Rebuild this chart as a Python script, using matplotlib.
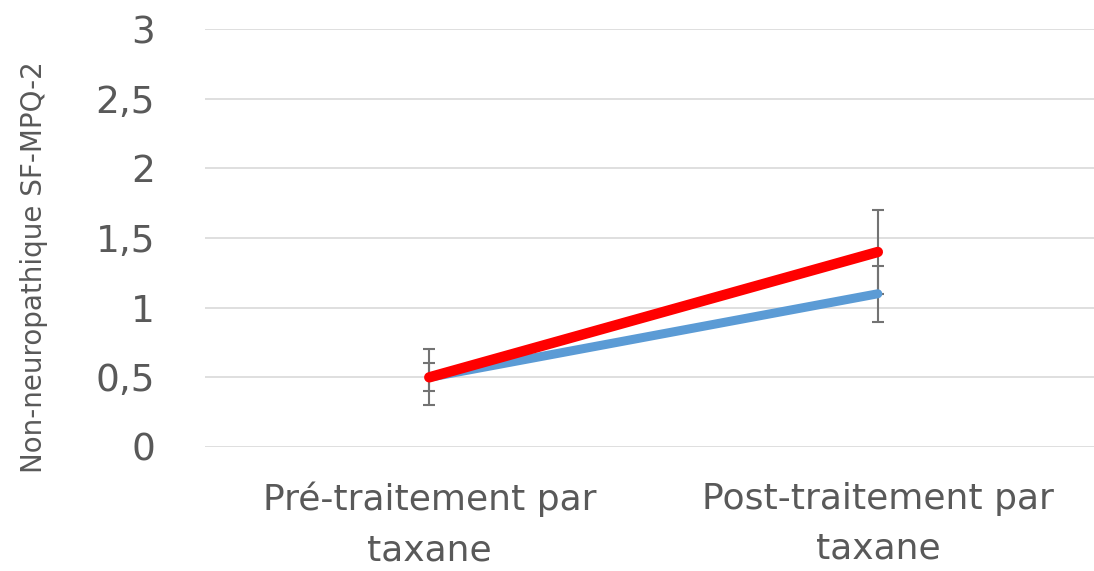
import matplotlib
matplotlib.use("Agg")
import matplotlib.pyplot as plt

categories = ["Pré-traitement par\ntaxane", "Post-traitement par\ntaxane"]
blue_values = [0.5, 1.1]
blue_err = [0.1, 0.2]
red_values = [0.5, 1.4]
red_err = [0.2, 0.3]
y_ticks = [0, 0.5, 1, 1.5, 2, 2.5, 3]
y_tick_labels = ["0", "0,5", "1", "1,5", "2", "2,5", "3"]
y_label = "Non-neuropathique SF-MPQ-2"

plt.rcParams["font.family"] = ["DejaVu Sans"]
text_color = "#595959"

fig = plt.figure(figsize=(10.94, 5.71), dpi=100)
ax = fig.add_axes([0.1874, 0.2172, 0.82, 0.7318])

x = [0.5, 1.5]
ax.errorbar(x, red_values, yerr=red_err, fmt="none", ecolor="#737373",
            elinewidth=1.5, capsize=4.5, capthick=1.5, zorder=2)
ax.errorbar(x, blue_values, yerr=blue_err, fmt="none", ecolor="#737373",
            elinewidth=1.5, capsize=4.5, capthick=1.5, zorder=2)
ax.plot(x, blue_values, color="#5B9BD5", lw=6.5, solid_capstyle="round", zorder=3)
ax.plot(x, red_values, color="#FF0000", lw=7.5, solid_capstyle="round", zorder=4)

ax.set_xlim(0, 2)
ax.set_ylim(0, 3)
ax.set_yticks(y_ticks)
ax.set_yticklabels(y_tick_labels)
ax.set_xticks(x)
ax.set_xticklabels(categories, linespacing=1.6)
ax.yaxis.grid(True, color="#d9d9d9", lw=1.2)
ax.set_axisbelow(True)
for s in ax.spines.values():
    s.set_visible(False)
ax.tick_params(axis="y", length=0, pad=36, labelsize=27, labelcolor=text_color)
ax.tick_params(axis="x", length=0, pad=25, labelsize=26, labelcolor=text_color)
ax.set_ylabel(y_label, fontsize=20, color=text_color)
ax.yaxis.set_label_coords(-0.175, 0.43)

fig.savefig("out.png", dpi=100)
